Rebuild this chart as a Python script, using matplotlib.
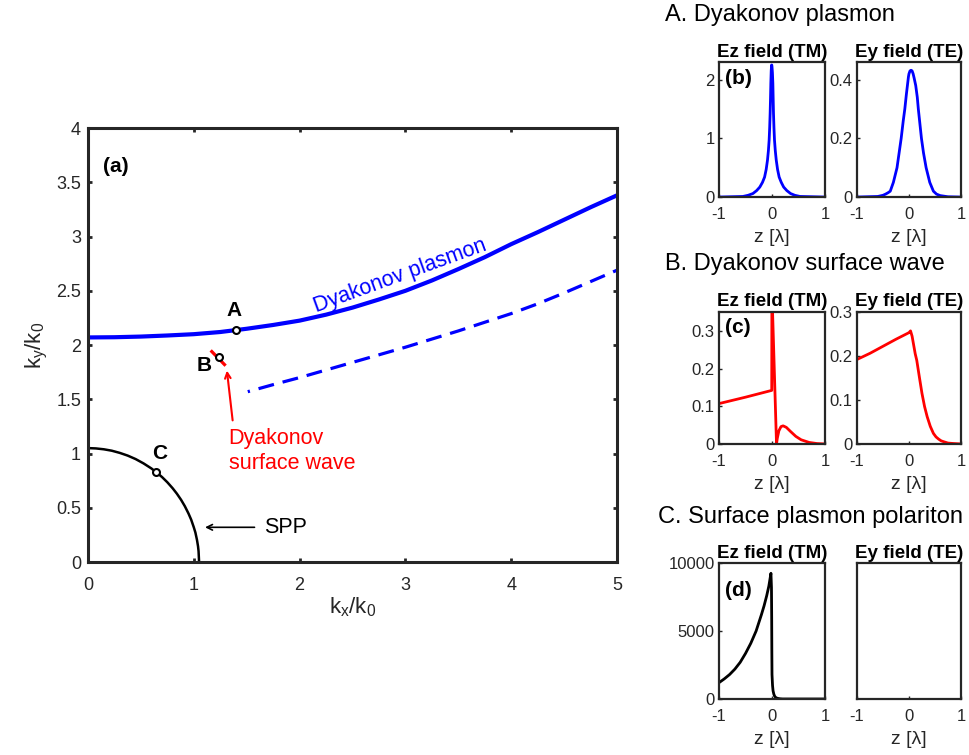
import matplotlib.pyplot as plt

plt.rcParams['font.family'] = ['Liberation Sans', 'DejaVu Sans']
plt.rcParams['mathtext.fontset'] = 'custom'
plt.rcParams['mathtext.rm'] = 'Liberation Sans'
plt.rcParams['mathtext.it'] = 'Liberation Sans:italic'

# ---- main panel (a): dispersion curves ----
dp_kx = [0, 0.25, 0.5, 0.75, 1.0, 1.25, 1.5, 1.75, 2.0, 2.25, 2.5, 2.75, 3.0,
         3.25, 3.5, 3.75, 4.0, 4.25, 4.5, 4.75, 5.0]
dp_ky = [2.07, 2.072, 2.078, 2.088, 2.10, 2.12, 2.15, 2.185, 2.225, 2.28, 2.345,
         2.42, 2.50, 2.595, 2.70, 2.81, 2.93, 3.04, 3.155, 3.27, 3.38]

dp2_kx = [1.51, 1.75, 2.0, 2.25, 2.5, 2.75, 3.0, 3.25, 3.5, 3.75, 4.0, 4.25,
          4.5, 4.75, 5.0]
dp2_ky = [1.57, 1.635, 1.70, 1.77, 1.84, 1.91, 1.98, 2.055, 2.13, 2.21, 2.29,
          2.38, 2.48, 2.585, 2.69]

dsw_kx = [1.17, 1.29]
dsw_ky = [1.94, 1.82]

spp_kx = [0, 0.075, 0.15, 0.225, 0.3, 0.375, 0.45, 0.525, 0.6, 0.65, 0.7, 0.75,
          0.8, 0.84, 0.88, 0.915, 0.95, 0.975, 1.0, 1.015, 1.03, 1.04, 1.045, 1.05]
spp_ky = [1.05, 1.047, 1.039, 1.026, 1.006, 0.981, 0.949, 0.909, 0.862, 0.824,
          0.783, 0.735, 0.680, 0.630, 0.573, 0.515, 0.447, 0.391, 0.320, 0.272,
          0.204, 0.145, 0.10, 0]

pts = {'A': (1.40, 2.14), 'B': (1.24, 1.89), 'C': (0.64, 0.83)}

# ---- field profiles ----
z_b_ez = [-1, -0.55, -0.45, -0.36, -0.29, -0.23, -0.18, -0.14, -0.11, -0.085,
          -0.068, -0.054, -0.044, -0.035, -0.028, -0.022, -0.015, -0.008, -0.004,
          0.0, 0.008, 0.016, 0.022, 0.028, 0.037, 0.047, 0.062, 0.08, 0.105,
          0.135, 0.175, 0.22, 0.28, 0.35, 0.43, 0.53, 1]
v_b_ez = [0, 0.01, 0.03, 0.06, 0.11, 0.17, 0.25, 0.34, 0.47, 0.63,
          0.79, 0.97, 1.18, 1.43, 1.68, 1.94, 2.15, 2.25, 2.25,
          2.22, 2.12, 1.94, 1.68, 1.43, 1.18, 0.97, 0.79, 0.63, 0.47,
          0.34, 0.25, 0.17, 0.11, 0.06, 0.03, 0.01, 0]

z_b_ey = [-1, -0.6, -0.5, -0.45, -0.4, -0.36, -0.3, -0.23, -0.19, -0.15, -0.11,
          -0.08, -0.05, -0.03, -0.01, 0.0, 0.02, 0.04, 0.06, 0.08, 0.1, 0.13,
          0.16, 0.18, 0.21, 0.24, 0.28, 0.33, 0.4, 0.47, 0.53, 0.6, 0.75, 1]
v_b_ey = [0, 0.002, 0.006, 0.01, 0.015, 0.02, 0.05, 0.1, 0.15, 0.2, 0.26,
          0.3, 0.35, 0.38, 0.41, 0.42, 0.43, 0.432, 0.43, 0.42, 0.405, 0.38,
          0.34, 0.3, 0.25, 0.2, 0.15, 0.1, 0.05, 0.02, 0.01, 0.005, 0.001, 0]

z_c_ez = [-1, -0.5, -0.005, -0.002, 0.0, 0.085, 0.1, 0.13, 0.17, 0.21, 0.27,
          0.35, 0.45, 0.55, 0.7, 0.85, 1]
v_c_ez = [0.107, 0.124, 0.142, 0.40, 0.40, 0.0, 0.015, 0.035, 0.046, 0.048, 0.044,
          0.033, 0.02, 0.011, 0.004, 0.001, 0]

z_c_ey = [-1, -0.75, -0.5, -0.25, 0.0, 0.03, 0.06, 0.09, 0.12, 0.15, 0.2, 0.25,
          0.3, 0.35, 0.41, 0.47, 0.52, 0.57, 0.62, 0.67, 0.75, 0.85, 1]
v_c_ey = [0.192, 0.206, 0.222, 0.238, 0.253, 0.257, 0.245, 0.225, 0.205, 0.19,
          0.152, 0.115, 0.085, 0.062, 0.04, 0.024, 0.016, 0.011, 0.007, 0.005,
          0.002, 0.001, 0]

z_d_ez = [-1, -0.9, -0.8, -0.7, -0.6, -0.5, -0.4, -0.3, -0.2, -0.15, -0.1,
          -0.06, -0.02, -0.01, -0.006, -0.003, 0.0, 0.01, 0.02, 0.035, 0.05,
          0.07, 0.1, 0.15, 0.2, 1]
v_d_ez = [1200, 1480, 1800, 2200, 2700, 3350, 4100, 5000, 6200, 6850, 7600,
          8300, 9250, 8200, 6000, 3500, 1800, 1000, 600, 350, 200, 110, 50, 15,
          0, 0]

z_d_ey = [-1, 1]
v_d_ey = [0, 0]

frame = '#262626'

fig = plt.figure(figsize=(9.69, 7.55), dpi=100)

ax = fig.add_axes([0.0908, 0.2556, 0.546, 0.5748])
ax.plot(dp_kx, dp_ky, color='blue', lw=3)
ax.plot(dp2_kx, dp2_ky, color='blue', lw=2.3, linestyle=(4.3, (5, 2.8)))
ax.plot(dsw_kx, dsw_ky, color='red', lw=2.3)
ax.plot(spp_kx, spp_ky, color='black', lw=1.8)
for name, (px, py) in pts.items():
    ax.plot(px, py, 'o', ms=5, mfc='white', mec='black', mew=1.5)

ax.text(1.38, 2.32, 'A', fontsize=15, fontweight='bold', ha='center', va='center')
ax.text(1.10, 1.81, 'B', fontsize=15, fontweight='bold', ha='center', va='center')
ax.text(0.68, 1.00, 'C', fontsize=15, fontweight='bold', ha='center', va='center')
ax.text(0.14, 3.65, '(a)', fontsize=15, fontweight='bold', ha='left', va='center')

ax.text(2.95, 2.64, 'Dyakonov plasmon', color='blue', fontsize=15.5,
        rotation=20, ha='center', va='center', rotation_mode='anchor')
ax.text(1.33, 1.02, 'Dyakonov\nsurface wave', color='red', fontsize=15.5,
        ha='left', va='center', linespacing=1.25)
ax.annotate('', xy=(1.31, 1.79), xytext=(1.37, 1.28),
            arrowprops=dict(arrowstyle='->', color='red', lw=1.5))
ax.text(1.66, 0.32, 'SPP', fontsize=15.5, ha='left', va='center')
ax.annotate('', xy=(1.08, 0.32), xytext=(1.60, 0.32),
            arrowprops=dict(arrowstyle='->', color='black', lw=1.2))

ax.set_xlim(0, 5)
ax.set_ylim(0, 4)
ax.set_xticks([0, 1, 2, 3, 4, 5])
ax.set_yticks([0, 0.5, 1, 1.5, 2, 2.5, 3, 3.5, 4])
ax.set_yticklabels(['0', '0.5', '1', '1.5', '2', '2.5', '3', '3.5', '4'])
ax.tick_params(direction='in', length=3, width=2, top=True, right=True,
               labelsize=13, colors=frame, labelcolor='#262626')
ax.tick_params(axis='x', pad=11)
ax.tick_params(axis='y', pad=5)
ax.set_xlabel(r'$\mathrm{k_x/k_0}$', fontsize=16, color=frame, labelpad=1)
ax.set_ylabel(r'$\mathrm{k_y/k_0}$', fontsize=16, color=frame)
for s in ax.spines.values():
    s.set_linewidth(2.2)
    s.set_color(frame)

# ---- small panels ----
cols = [0.742, 0.8844]
widths = [0.1094, 0.1073]
rows = [(0.739, 0.1788), (0.412, 0.1748), (0.0742, 0.180)]
panels = [
    (z_b_ez, v_b_ez, 'blue', (0, 2.3), [0, 1, 2], ['0', '1', '2'], '(b)', 0.88),
    (z_b_ey, v_b_ey, 'blue', (0, 0.46), [0, 0.2, 0.4], ['0', '0.2', '0.4'], None, 0),
    (z_c_ez, v_c_ez, 'red', (0, 0.35), [0, 0.1, 0.2, 0.3], ['0', '0.1', '0.2', '0.3'], '(c)', 0.88),
    (z_c_ey, v_c_ey, 'red', (0, 0.3), [0, 0.1, 0.2, 0.3], ['0', '0.1', '0.2', '0.3'], None, 0),
    (z_d_ez, v_d_ez, 'black', (0, 10000), [0, 5000, 10000], ['0', '5000', '10000'], '(d)', 0.80),
    (z_d_ey, v_d_ey, 'black', (0, 1), [], [], None, 0),
]
for i, (z, v, c, yl, yt, ytl, tag, tagy) in enumerate(panels):
    r, k = divmod(i, 2)
    b, h = rows[r]
    sa = fig.add_axes([cols[k], b, widths[k], h])
    sa.plot(z, v, color=c, lw=2)
    sa.set_xlim(-1, 1)
    sa.set_ylim(*yl)
    sa.set_xticks([-1, 0, 1])
    sa.set_xticklabels(['-1', '0', '1'])
    sa.set_yticks(yt)
    sa.set_yticklabels(ytl)
    sa.tick_params(direction='in', length=2, width=1, labelsize=12,
                   colors=frame)
    sa.tick_params(axis='x', pad=7)
    sa.tick_params(axis='y', pad=3)
    sa.set_xlabel('z [λ]', fontsize=14, color=frame, labelpad=5)
    sa.set_title('Ez field (TM)' if k == 0 else 'Ey field (TE)',
                 fontsize=13.5, fontweight='bold', pad=4)
    for s in sa.spines.values():
        s.set_linewidth(1.6)
        s.set_color(frame)
    if tag:
        sa.text(0.06, tagy, tag, transform=sa.transAxes, fontsize=15,
                fontweight='bold', ha='left', va='center')

fig.text(0.686, 0.980, 'A. Dyakonov plasmon', fontsize=17, ha='left', va='center')
fig.text(0.686, 0.650, 'B. Dyakonov surface wave', fontsize=17, ha='left', va='center')
fig.text(0.679, 0.315, 'C. Surface plasmon polariton', fontsize=17, ha='left', va='center')

fig.savefig('out.png', dpi=100)
